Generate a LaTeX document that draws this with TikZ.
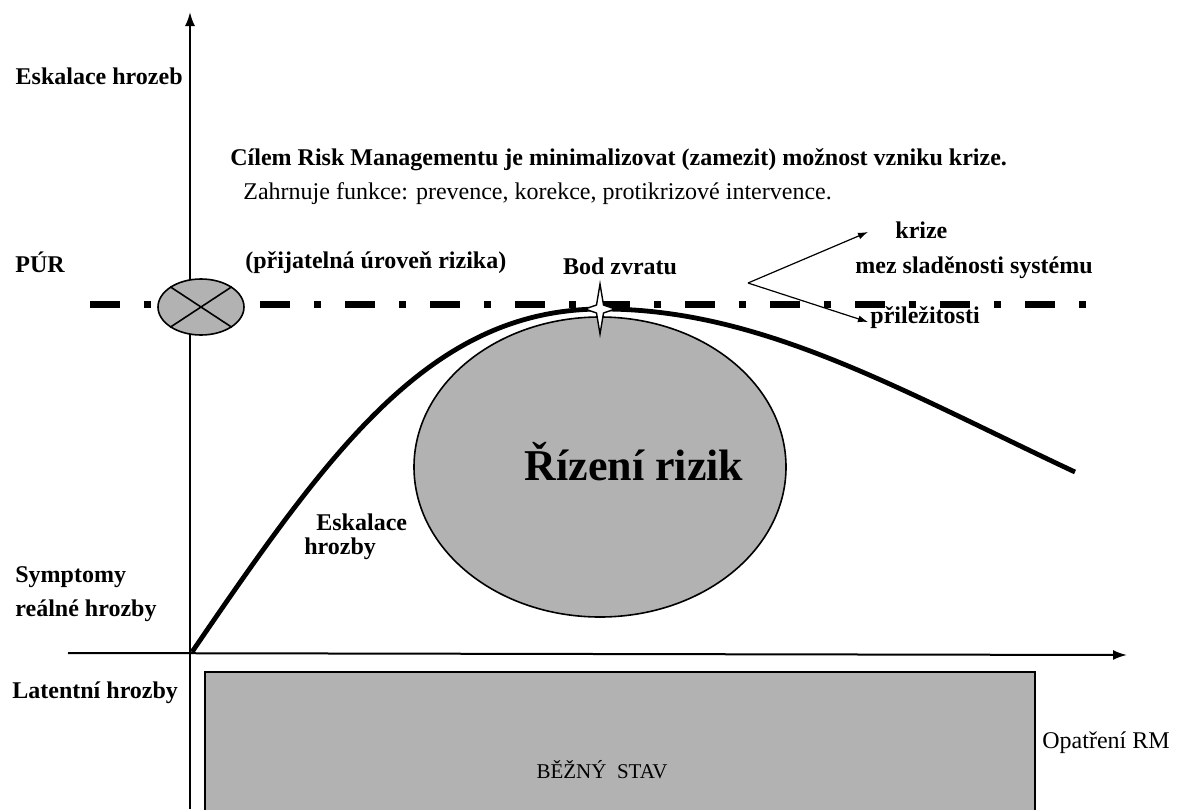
\documentclass[tikz,border=0pt]{standalone}
\usepackage{fontspec}
\setmainfont{Liberation Serif}
\usetikzlibrary{shapes.geometric,arrows.meta}

\begin{document}
\begin{tikzpicture}[x=0.5pt,y=-0.5pt,
	lbl/.style={font=\bfseries\fontsize{12}{14}\selectfont, inner sep=0pt},
	txt/.style={font=\fontsize{12}{14}\selectfont, inner sep=0pt},
	axis/.style={line width=1pt, -{Latex[length=7pt,width=5pt]}},
	fork/.style={line width=0.6pt, -{Latex[length=5pt,width=3.5pt]}},
	grain/.style={fill=black!30},
	limit/.style={line width=3.5pt, dash pattern=on 15pt off 12pt on 3.5pt off 12pt}]
	\useasboundingbox (0,0) rectangle (1184,809);
	% axes
	\coordinate (ybot) at (190,809);
	\coordinate (ytop) at (190,12);
	\coordinate (xleft) at (68,653);
	\coordinate (xright) at (1127,655);
	\coordinate (origin) at (192,652);
	\draw[axis] (ybot) -- (ytop);
	\draw[axis] (xleft) -- (xright);
	% bezny stav
	\draw[grain, line width=1.2pt] (205,672) rectangle (1035,812);
	\node[txt, font=\fontsize{10.5}{12}\selectfont] (stav) at (602,770) {BĚŽNÝ\ \ STAV};
	\node[txt, anchor=west] (opatreni) at (1042,743) {Opatření RM};
	% levels
	\node[lbl, anchor=east] (eskalace) at (183,76) {Eskalace hrozeb};
	\node[lbl, anchor=west] (pur) at (15,262) {PÚR};
	\node[lbl, anchor=west] (symptomy) at (15,577) {Symptomy};
	\node[lbl, anchor=west] (realne) at (15,611) {reálné hrozby};
	\node[lbl, anchor=west] (latentni) at (12,693) {Latentní hrozby};
	\node[lbl, anchor=west] (cilem) at (230,160) {Cílem Risk Managementu je minimalizovat (zamezit) možnost vzniku krize.};
	\node[txt, anchor=west] (funkce) at (243,194) {Zahrnuje funkce: prevence, korekce, protikrizové intervence.};
	\node[lbl, anchor=west] (prijatelna) at (245,263) {(přijatelná úroveň rizika)};
	% limit line
	\coordinate (limstart) at (90,304);
	\coordinate (limend) at (1108,304);
	\draw[limit] (limstart) -- (limend);
	\node[ellipse, draw, line width=0.8pt, grain, minimum width=43pt, minimum height=28pt] (purzone) at (201,307) {};
	\draw[line width=0.8pt] (purzone.north west) -- (purzone.south east);
	\draw[line width=0.8pt] (purzone.north east) -- (purzone.south west);
	% rizeni rizik
	\node[ellipse, draw, line width=0.8pt, grain, minimum width=186pt, minimum height=150pt, inner sep=0pt] (rizeni) at (600,467) {};
	\node[font=\bfseries\fontsize{22}{26}\selectfont, inner sep=0pt] (rizenitext) at (634,462) {Řízení rizik};
	% escalation curve
	\coordinate (peak) at (600,309);
	\coordinate (tail) at (1075,472);
	\draw[line width=2.4pt] (origin) .. controls (330,450) and (430,310) .. (peak)
		.. controls (760,308) and (900,390) .. (tail);
	\node[lbl, anchor=west] (eskal1) at (316,522) {Eskalace};
	\node[lbl, anchor=west] (eskal2) at (304,549) {hrozby};
	% bod zvratu
	\draw[line width=0.7pt, fill=white] (peak) +(0,-25) -- +(3.5,-4) -- +(15,0) -- +(3.5,4)
		-- +(0,25) -- +(-3.5,4) -- +(-15,0) -- +(-3.5,-4) -- cycle;
	\node[lbl] (bod) at (620,266) {Bod zvratu};
	% fork
	\coordinate (fork) at (748,283);
	\coordinate (tokrize) at (868,232);
	\coordinate (toprilez) at (868,322);
	\draw[fork] (fork) -- (tokrize);
	\draw[fork] (fork) -- (toprilez);
	\node[lbl, anchor=west] (krize) at (895,230) {krize};
	\node[lbl, anchor=west] (mez) at (855,268) {mez sladěnosti systému};
	\node[lbl, anchor=west] (prilez) at (870,318) {přiležitosti};
\end{tikzpicture}
\end{document}
